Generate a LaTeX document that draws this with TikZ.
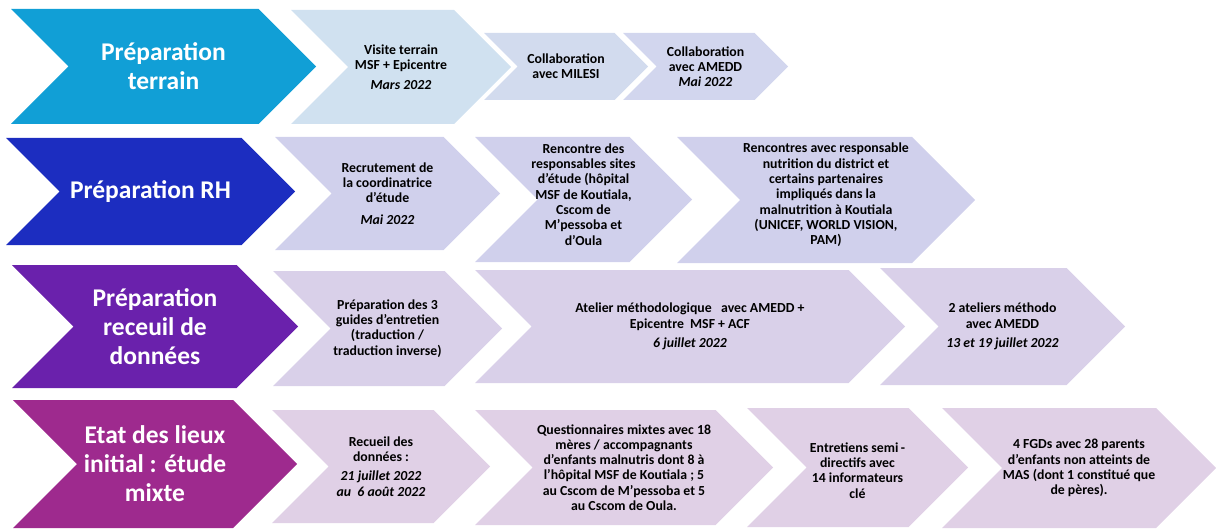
\documentclass[tikz,border=0pt]{standalone}
\usepackage{fontspec}
\setmainfont{Carlito}
\usetikzlibrary{calc}
\definecolor{terrainblue}{RGB}{17,159,214}
\definecolor{rhblue}{RGB}{28,45,192}
\definecolor{recueilpurple}{RGB}{106,33,172}
\definecolor{etatmagenta}{RGB}{158,42,142}
\definecolor{paleblue}{RGB}{208,225,240}
\definecolor{palesky}{RGB}{210,219,238}
\definecolor{paleperi}{RGB}{210,214,238}
\definecolor{palelavender}{RGB}{208,208,236}
\definecolor{palelilac}{RGB}{217,208,233}
\definecolor{palemauve}{RGB}{224,208,230}

% chevron: name, left, tip, top, bottom, fill, node style, text
\newcommand{\chevron}[8]{%
  \pgfmathsetmacro{\chdepth}{(#5-#4)/2}%
  \pgfmathsetmacro{\chmid}{(#4+#5)/2}%
  \fill[#6] (#2,#4) -- ({#3-\chdepth},#4) -- (#3,\chmid) -- ({#3-\chdepth},#5)
    -- (#2,#5) -- ({#2+\chdepth},\chmid) -- cycle;
  \node[#7] (#1) at ({(#2+#3)/2},\chmid) {#8};%
}

\begin{document}
\begin{tikzpicture}[x=1pt, y=-1pt,
    bigtext/.style={text=white, align=center, inner sep=0pt,
      font=\bfseries\fontsize{25.5}{29}\selectfont},
    steptext/.style={text=black, align=center, inner sep=0pt,
      font=\bfseries\fontsize{13.8}{15.3}\selectfont}]
  \useasboundingbox (0,0) rectangle (1216,532);

  % Preparation terrain
  \chevron{terrain}{11}{316}{9}{124}{terrainblue}{bigtext}{Préparation\\terrain}
  \chevron{visite}{291}{511}{10}{124}{paleblue}{steptext}{Visite terrain\\MSF + Epicentre\\[4pt]\textit{Mars 2022}}
  \chevron{milesi}{484}{648}{33}{100}{palesky}{steptext}{Collaboration\\avec MILESI}
  \chevron{amedd}{623}{788}{33}{100}{paleperi}{steptext}{Collaboration\\avec AMEDD\\\textit{Mai 2022}}

  % Preparation RH
  \chevron{rh}{6}{295}{138}{245}{rhblue}{bigtext}{Préparation RH}
  \chevron{recrutement}{275}{500}{137}{250}{palelavender}{steptext}{Recrutement de\\la coordinatrice\\d'étude\\[6pt]\textit{Mai 2022}}
  \chevron{sites}{475}{692}{137}{262}{palelavender}{steptext, yshift=5pt}{Rencontre des\\responsables sites\\d’étude (hôpital\\MSF de Koutiala,\\Cscom de\\M’pessoba et\\d’Oula}
  \chevron{district}{677}{975}{137}{263}{palelavender}{steptext, yshift=5pt}{Rencontres avec responsable\\nutrition du district et\\certains partenaires\\impliqués dans la\\malnutrition à Koutiala\\(UNICEF, WORLD VISION,\\PAM)}

  % Preparation recueil de donnees
  \chevron{recueil}{12}{298}{265}{388}{recueilpurple}{bigtext}{Préparation\\receuil de\\données}
  \chevron{guides}{273}{502}{271}{386}{palelilac}{steptext}{Préparation des 3\\guides d’entretien\\(traduction /\\traduction inverse)}
  \chevron{atelier}{475}{905}{270}{383}{palelilac}{steptext}{Atelier méthodologique~~ avec AMEDD +\\Epicentre~ MSF + ACF\\[4pt]\textit{6 juillet 2022}}
  \chevron{ateliers}{880}{1125}{268}{385}{palelilac}{steptext}{2 ateliers méthodo\\avec AMEDD\\[4pt]\textit{13 et 19 juillet 2022}}

  % Etat des lieux initial
  \chevron{etat}{13}{297}{400}{528}{etatmagenta}{bigtext}{Etat des lieux\\initial : étude\\mixte}
  \chevron{collecte}{272}{490}{410}{523}{palemauve}{steptext}{Recueil des\\données :\\[4pt]\textit{21 juillet 2022}\\\textit{au~ 6 août 2022}}
  \chevron{questionnaires}{475}{773}{410}{525}{palemauve}{steptext}{Questionnaires mixtes avec 18\\mères / accompagnants\\d’enfants malnutris dont 8 à\\l’hôpital MSF de Koutiala ; 5\\au Cscom de M’pessoba et 5\\au Cscom de Oula.}
  \chevron{entretiens}{747}{968}{408}{527}{palemauve}{steptext, yshift=-3pt}{Entretiens semi\,-\\directifs avec\\14 informateurs\\clé}
  \chevron{fgd}{942}{1216}{408}{528}{palemauve}{steptext}{4 FGDs avec 28 parents\\d’enfants non atteints de\\MAS (dont 1 constitué que\\de pères).}
\end{tikzpicture}
\end{document}
